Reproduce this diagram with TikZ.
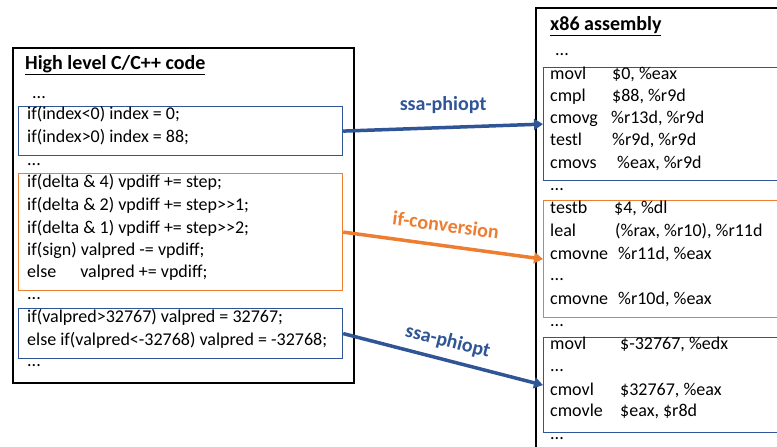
\documentclass[tikz,border=0pt]{standalone}
\usepackage{fontspec}
\setmainfont{Carlito}
\usetikzlibrary{arrows.meta}
\definecolor{optblue}{HTML}{2F5597}
\definecolor{optorange}{HTML}{ED7D31}

\begin{document}
\begin{tikzpicture}[x=1pt,y=-1pt,
  code/.style={anchor=mid west,inner sep=0pt,font=\fontsize{18}{21}\selectfont},
  heading/.style={anchor=mid west,inner sep=0pt,font=\fontsize{20}{23}\selectfont\bfseries},
  blk/.style={draw,line width=1.2pt,anchor=north west,inner sep=0pt},
  pass/.style={line width=3.5pt,-{Triangle[length=9pt,width=11pt]}},
  passlabel/.style={font=\fontsize{20}{23}\selectfont\bfseries,sloped,inner sep=0pt}]
  \clip (0,0) rectangle (777,447);

  % C code side
  \node[blk,black,line width=1.6pt,minimum width=341pt,minimum height=335pt] (src) at (12,47) {};
  \node[heading] (srctitle) at (25,67) {\underline{High level C/C++ code}};
  \node[code] (s0) at (32,96) {...};
  \node[blk,optblue,minimum width=324pt,minimum height=49pt] (lb1) at (18,106) {};
  \node[code] (s1) at (27,117) {if(index<0) index = 0;};
  \node[code] (s2) at (27,140) {if(index>0) index = 88;};
  \node[code] (s3) at (27,163) {...};
  \node[blk,optorange,minimum width=324pt,minimum height=117pt] (lb2) at (18,173) {};
  \node[code] (s4) at (27,185) {if(delta \& 4) vpdiff += step;};
  \node[code] (s5) at (27,208) {if(delta \& 2) vpdiff += step>{}>1;};
  \node[code] (s6) at (27,231) {if(delta \& 1) vpdiff += step>{}>2;};
  \node[code] (s7) at (27,253) {if(sign) valpred -= vpdiff;};
  \node[code] (s8) at (27,275) {else\hspace{24pt}valpred += vpdiff;};
  \node[code] (s9) at (27,297) {...};
  \node[blk,optblue,minimum width=324pt,minimum height=50pt] (lb3) at (18,308) {};
  \node[code] (s10) at (27,320) {if(valpred>32767) valpred = 32767;};
  \node[code] (s11) at (27,343) {else if(valpred<-32768) valpred = -32768;};
  \node[code] (s12) at (27,364) {...};

  % assembly side
  \node[blk,black,line width=1.6pt,minimum width=300pt,minimum height=500pt] (asm) at (535,7) {};
  \node[heading] (asmtitle) at (550,28) {\underline{x86 assembly}};
  \node[code] (a0) at (555,53) {...};
  \node[blk,optblue,minimum width=260pt,minimum height=113pt] (rb1) at (543,67) {};
  \node[code] (a1) at (550,77) {\makebox[62pt][l]{movl}\$0, \%eax};
  \node[code] (a2) at (550,99) {\makebox[62pt][l]{cmpl}\$88, \%r9d};
  \node[code] (a3) at (550,121) {\makebox[61pt][l]{cmovg}\%r13d, \%r9d};
  \node[code] (a4) at (550,143) {\makebox[62pt][l]{testl}\%r9d, \%r9d};
  \node[code] (a5) at (550,166) {\makebox[67pt][l]{cmovs}\%eax, \%r9d};
  \node[code] (a6) at (550,188) {...};
  \node[blk,optorange,minimum width=260pt,minimum height=117pt] (rb2) at (543,200) {};
  \node[code] (a7) at (550,211) {\makebox[64pt][l]{testb}\$4, \%dl};
  \node[code] (a8) at (550,234) {\makebox[65pt][l]{leal}(\%rax, \%r10), \%r11d};
  \node[code] (a9) at (550,257) {\makebox[68pt][l]{cmovne}\%r11d, \%eax};
  \node[code] (a10) at (550,278) {...};
  \node[code] (a11) at (550,302) {\makebox[68pt][l]{cmovne}\%r10d, \%eax};
  \node[code] (a12) at (550,324) {...};
  \node[blk,optblue,minimum width=260pt,minimum height=95pt] (rb3) at (543,337) {};
  \node[code] (a13) at (550,347) {\makebox[70pt][l]{movl}\$-32767, \%edx};
  \node[code] (a14) at (550,369) {...};
  \node[code] (a15) at (550,393) {\makebox[70pt][l]{cmovl}\$32767, \%eax};
  \node[code] (a16) at (550,414) {\makebox[70pt][l]{cmovle}\$eax, \$r8d};
  \node[code] (a17) at (550,437) {...};

  % passes
  \draw[pass,optblue] (lb1.east) -- node[passlabel,optblue,sloped=false,above=12pt] {ssa-phiopt} (rb1.west);
  \draw[pass,optorange] (lb2.east) -- node[passlabel,optorange,above=12pt] {if-conversion} (rb2.west);
  \draw[pass,optblue] (lb3.east) -- node[passlabel,optblue,above=8pt] {ssa-phiopt} (rb3.west);
\end{tikzpicture}
\end{document}
